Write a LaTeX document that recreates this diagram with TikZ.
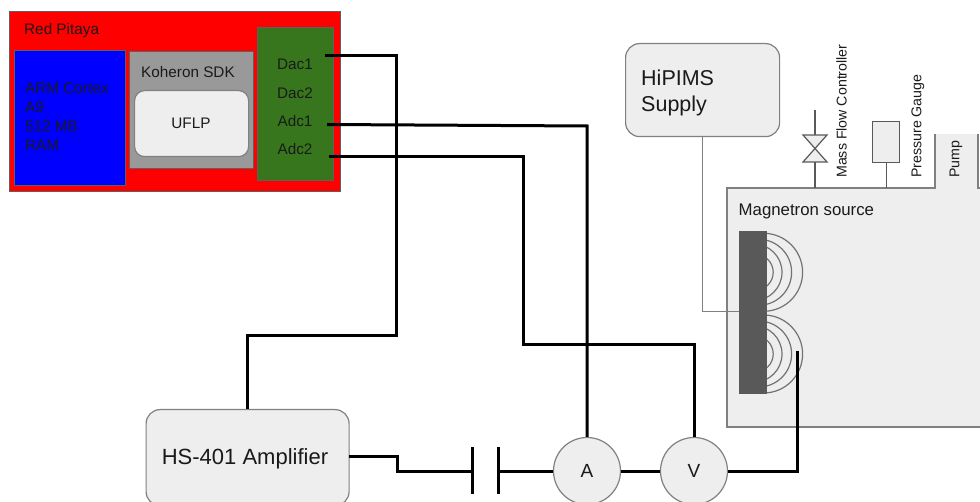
\documentclass[tikz,border=0pt]{standalone}
\usepackage{fontspec}
\setmainfont{Liberation Sans}
\definecolor{lightf}{HTML}{EEEEEE}
\definecolor{edge}{HTML}{808080}
\definecolor{dedge}{HTML}{5F5F5F}
\definecolor{dkg}{HTML}{38761D}
\definecolor{midg}{HTML}{999999}
\definecolor{tgt}{HTML}{595959}
\definecolor{ink}{HTML}{1A1A1A}
\tikzset{
  wire/.style={line width=3pt,black,line join=miter},
  thin wire/.style={line width=1pt,edge},
  vac wire/.style={line width=1.2pt,tgt},
  lbl/.style={inner sep=0pt,text=ink,font=\fontsize{15.3pt}{19pt}\selectfont},
  rot lbl/.style={rotate=90,anchor=west,inner sep=0pt,text=ink,font=\fontsize{14.2pt}{16pt}\selectfont},
  hwbox/.style={draw=dedge,line width=1pt,anchor=north west,inner sep=0pt},
  boxr/.style={draw=edge,line width=1.2pt,rounded corners=14pt,fill=lightf,anchor=north west,inner sep=0pt},
  meter/.style={circle,draw=edge,line width=1.2pt,fill=lightf,minimum size=67pt,inner sep=0pt,text=ink,font=\fontsize{19pt}{22pt}\selectfont},
  arcline/.style={line width=1.2pt,tgt!85!white},
}
\begin{document}
\begin{tikzpicture}[x=1pt,y=-1pt]
\useasboundingbox (0,0) rectangle (980,502);
% Vacuum chamber
\fill[lightf] (980,188) -- (978,188) -- (978,134) -- (935,134) -- (935,188) -- (727,188) -- (727,427) -- (980,427) -- cycle;
\draw[draw=edge,line width=1.2pt] (935,134) -- (935,188) -- (727,188) -- (727,427) -- (980,427);
\draw[draw=edge,line width=1.2pt] (978,134) -- (978,188) -- (980,188);
% Red Pitaya
\node[hwbox,fill=red,minimum width=331pt,minimum height=180pt] (rp) at (9,11) {};
\node[lbl,anchor=west] (rpl) at (24,31) {Red Pitaya};
\node[hwbox,fill=blue,minimum width=111pt,minimum height=135pt] (arm) at (14,50) {};
\node[lbl,anchor=north west,align=left] (arml) at (25,83) {ARM Cortex\\A9\\512 MB\\RAM};
\node[hwbox,fill=midg,minimum width=124pt,minimum height=117pt] (kh) at (129,51) {};
\node[lbl,anchor=west] (khl) at (141,72) {Koheron SDK};
\node[boxr,rounded corners=10pt,minimum width=114pt,minimum height=66pt] (uflp) at (134,90) {};
\node[lbl] at (191,123) {UFLP};
\node[hwbox,fill=dkg,minimum width=76pt,minimum height=153pt] (io) at (257,27) {};
\node[lbl] (dac1) at (295,64) {Dac1};
\node[lbl] (dac2) at (295,93) {Dac2};
\node[lbl] (adc1) at (295,121) {Adc1};
\node[lbl] (adc2) at (295,149) {Adc2};
% HiPIMS
\node[boxr,minimum width=154pt,minimum height=93pt] (hip) at (625,43) {};
\node[anchor=north west,align=left,inner sep=0pt,text=ink,font=\fontsize{21.5pt}{26.5pt}\selectfont] (hipl) at (641,69.5) {HiPIMS\\Supply};
% Amplifier
\node[boxr,minimum width=203pt,minimum height=96pt] (amp) at (145.5,409) {};
\node[text=ink,inner sep=0pt,font=\fontsize{22pt}{26pt}\selectfont] at (245,459) {HS-401 Amplifier};
% Meters
\node[meter] (am) at (587,471) {A};
\node[meter] (vm) at (694,471) {V};
% Target and field lines
\begin{scope}
\clip (767,225) rectangle (815,400);
\foreach \cy in {272.3,354}{
  \foreach \cc/\rr in {3.4/39,8.4/33,13.3/28.3,11.8/18}{
    \draw[arcline] (767-\cc,\cy) circle[radius=\rr];
  }
}
\end{scope}
\node[fill=tgt,minimum width=28pt,minimum height=163pt,anchor=north west,inner sep=0pt] (tgtb) at (739,231) {};
\node[inner sep=0pt,text=ink,anchor=west,font=\fontsize{16.8pt}{19pt}\selectfont] at (738.5,211) {Magnetron source};
% HiPIMS wire
\coordinate (h1) at (702,312);
\draw[thin wire] (702,136) -- (h1) -- (739,312);
% Mass flow valve
\coordinate (mfb) at (815,188);
\coordinate (mft) at (815,110);
\draw[vac wire] (mft) -- (815,135) (815,162) -- (mfb);
\draw[fill=lightf,draw=tgt,line width=1.2pt] (803,135) -- (827,135) -- (803,162) -- (827,162) -- cycle;
\node[rot lbl] (mfl) at (841.5,178) {Mass Flow Controller};
% Gauge
\node[draw=tgt,fill=lightf,line width=1.2pt,minimum width=27pt,minimum height=41pt,anchor=north west,inner sep=0pt] (pg) at (872,121) {};
\draw[vac wire] (pg.south) -- (pg.south |- 0,188);
\node[rot lbl] (pgl) at (918,178) {Pressure Gauge};
\node[rot lbl] (pump) at (956,178) {Pump};
% Signal wires
\draw[wire] (325,55.5) -- (396,55.5) -- (396,336) -- (247,336) -- (247,409);
\draw[wire] (327,124.5) -- (587,126) -- (am.north);
\draw[wire] (329,156.5) -- (523,156.5) -- (523,345) -- (694,345) -- (vm.north);
\draw[wire] (vm.east) -- (797,471) -- (797,351);
\draw[wire] (am.east) -- (vm.west);
\coordinate (c1) at (472,471);
\coordinate (c2) at (498,471);
\draw[wire] (349,456) -- (397,456) -- (397,471) -- (c1);
\draw[wire] (c2) -- (am.west);
\draw[wire] (472,447) -- (472,494);
\draw[wire] (498,447) -- (498,494);
\end{tikzpicture}
\end{document}
